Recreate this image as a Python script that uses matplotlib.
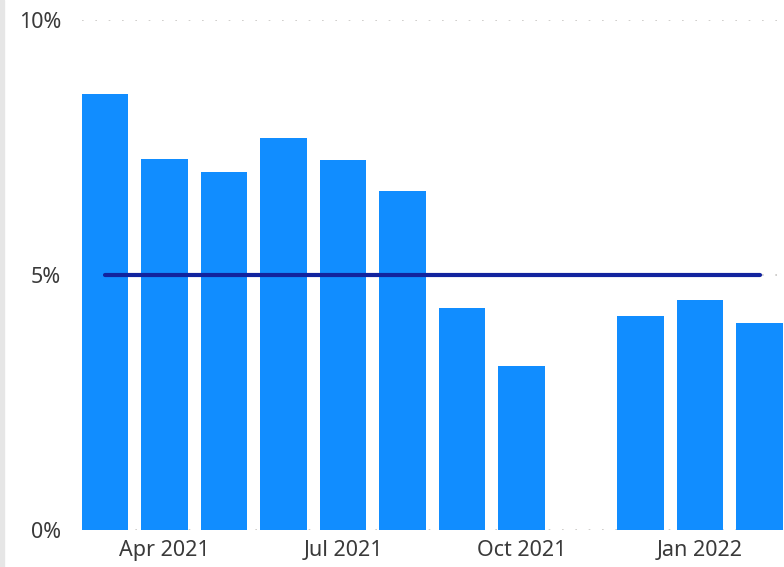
import numpy as np
import matplotlib.pyplot as plt
from matplotlib.patches import Rectangle

plt.rcParams['font.family'] = ['Noto Sans', 'DejaVu Sans']

months = ["Mar 2021", "Apr 2021", "May 2021", "Jun 2021", "Jul 2021", "Aug 2021",
          "Sep 2021", "Oct 2021", "Nov 2021", "Dec 2021", "Jan 2022", "Feb 2022"]
rate = [0.0855, 0.0727, 0.0702, 0.0769, 0.0725, 0.0665,
        0.0435, 0.0322, np.nan, 0.0420, 0.0451, 0.0406]
target = [0.05] * len(months)
tick_labels = ["Apr 2021", "Jul 2021", "Oct 2021", "Jan 2022"]

x = np.arange(len(months))
vals = np.array(rate, dtype=float)

fig = plt.figure(figsize=(7.84, 5.67), dpi=100)
ax = fig.add_axes([82 / 784, 37 / 567, 1 - 82 / 784, 510 / 567])

# light gray strip on the left edge
fig.patches.append(Rectangle((0, 0), 4 / 784, 1, transform=fig.transFigure,
                             color="#e6e6e6", zorder=0))

ax.bar(x[~np.isnan(vals)], vals[~np.isnan(vals)], width=0.78, color="#118DFF", zorder=2)
ax.plot(x, target, color="#12239E", linewidth=3, solid_capstyle="round", zorder=3)

ax.set_xlim(-0.387, 11.41)
ax.set_ylim(0, 0.10)
ax.set_yticks([0, 0.05, 0.10])
ax.set_yticklabels(["0%", "5%", "10%"])
ax.set_xticks([months.index(t) for t in tick_labels])
ax.set_xticklabels(tick_labels)

ax.grid(axis="y", color="#c8c6c4", linestyle=(0, (1, 7)), linewidth=1.2, zorder=1)
ax.set_axisbelow(True)
for s in ax.spines.values():
    s.set_visible(False)
ax.tick_params(axis="both", length=0, labelsize=15.5, labelcolor="#3a3a3a")
ax.tick_params(axis="y", pad=15)
ax.tick_params(axis="x", pad=7)

fig.savefig("out.png", dpi=100)
